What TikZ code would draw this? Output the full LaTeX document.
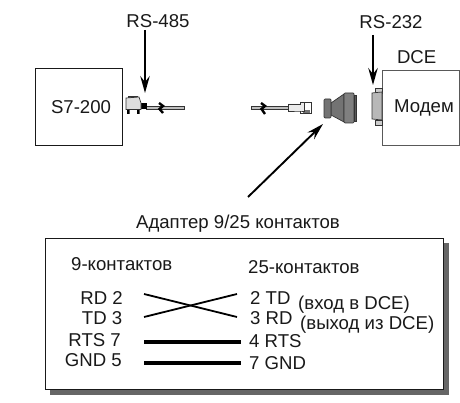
\documentclass[tikz,border=0pt]{standalone}
\usepackage{fontspec}
\setmainfont{Liberation Sans}
\usetikzlibrary{arrows.meta}
\tikzset{
 lbl/.style={inner sep=0pt,font=\fontsize{18.6}{20}\selectfont,text=black!90},
 lleft/.style={lbl,anchor=west},
 lright/.style={lbl,anchor=east},
 unitbox/.style={draw=black!90,line width=1pt,fill=white},
 callout/.style={line width=1.9pt,black,-{Stealth[length=17pt,width=9.5pt,inset=6pt]}},
 wire/.style={line width=1.8pt,black},
 thickwire/.style={line width=3.6pt,black},
 part/.style={draw=black!80,line width=0.7pt},
 cable/.style={draw=black!80,fill=black!25,line width=0.8pt},
 breakmark/.style={line width=2.4pt,black}
}
\begin{document}
\begin{tikzpicture}[x=1pt,y=-1pt]
\useasboundingbox (0,0) rectangle (460,403);
% units
\node[unitbox,minimum width=87pt,minimum height=76.5pt,anchor=north west,inner sep=0pt] (s7) at (34.5,68.5) {};
\node[lbl] (s7t) at (81,107.5) {S7-200};
\node[unitbox,draw=black!65,minimum width=77.4pt,minimum height=75pt,anchor=north west,inner sep=0pt] (modem) at (382,70) {};
\node[lbl] (modemt) at (424,107.5) {Модем};
% left connector
\draw[cable] (146,106.8) rectangle (184,109.8);
\fill[black] (140,103.5) rectangle (147,109);
\fill[black!80] (128,96) rectangle (138,98);
\fill[black] (127,108) rectangle (129.5,114) (137,108) rectangle (139.5,114);
\draw[part,fill=black!13] (126,98) -- (139,97) -- (141,103) -- (141,109.5) -- (126,109.5) -- cycle;
\draw[breakmark] (159,103) -- (163,106) -- (159.5,109) -- (163,113);
% right cable and plug
\draw[cable] (251,106.8) rectangle (288,109.8);
\draw[breakmark] (261,103) -- (265,106) -- (261.5,109) -- (265,114);
\draw[part,fill=white] (300,102) rectangle (311,113);
\fill[black!55] (303,110.5) rectangle (310,113);
\draw[part,fill=black!8] (288,104) -- (300,104) -- (300,102) -- (304,102) -- (304,111) -- (300,111) -- (288,111) -- cycle;
% adapter
\draw[part,fill=black!55] (331,103) -- (344,94) -- (344,122) -- (331,115) -- cycle;
\draw[part,fill=black!55,rounded corners=1pt] (324,99) rectangle (331,118);
\draw[part,fill=black!50,rounded corners=1pt] (344,93) rectangle (354,123);
\draw[part,fill=black!65] (354,95) rectangle (356,121);
% DB connector
\draw[part,fill=black!20] (375,88) rectangle (382,93);
\draw[part,fill=black!20] (375,120) rectangle (382,125);
\draw[part,fill=black!28] (372,93) -- (382,92) -- (382,120) -- (372,119) -- cycle;
% callouts
\node[lbl] (rs485) at (158,21.5) {RS-485};
\coordinate (rs485start) at (145,30);
\coordinate (rs485end) at (145,93);
\draw[callout] (rs485start) -- (rs485end);
\node[lbl] (rs232) at (391,22) {RS-232};
\coordinate (rs232start) at (373,35);
\coordinate (rs232end) at (373,85);
\draw[callout] (rs232start) -- (rs232end);
\node[lbl] (dce) at (416.7,57.5) {DCE};
\coordinate (adstart) at (248,197);
\coordinate (adend) at (323,124);
\draw[callout] (adstart) -- (adend);
\node[lbl] (adapter) at (238,224) {Адаптер 9/25 контактов};
% pin box
\fill[black!60] (49.5,243) rectangle (448.5,394.5);
\node[unitbox,minimum width=398.5pt,minimum height=151pt,anchor=north west,inner sep=0pt] (pinbox) at (44.5,238) {};
\node[lleft] (h9) at (71,264) {9-контактов};
\node[lleft] (h25) at (248,267) {25-контактов};
\node[lright] (l1) at (123,298) {RD 2};
\node[lright] (l2) at (122.5,318) {TD 3};
\node[lright] (l3) at (121,340) {RTS 7};
\node[lright] (l4) at (122,360) {GND 5};
\node[lleft] (r1) at (250,298) {2 TD};
\node[lleft] (r2) at (250,318) {3 RD};
\node[lleft] (r3) at (249,341) {4 RTS};
\node[lleft] (r4) at (249,363) {7 GND};
\node[lleft] (n1) at (298,305) {(вход в DCE)};
\node[lleft] (n2) at (300,325) {(выход из DCE)};
\coordinate (a1) at (144,294); \coordinate (a2) at (144,317);
\coordinate (b1) at (237,294); \coordinate (b2) at (237,317);
\coordinate (a3) at (144,342); \coordinate (b3) at (241,342);
\coordinate (a4) at (144,363); \coordinate (b4) at (241,363);
\draw[wire] (a1) -- (b2);
\draw[wire] (a2) -- (b1);
\draw[thickwire] (a3) -- (b3);
\draw[thickwire] (a4) -- (b4);
\end{tikzpicture}
\end{document}
